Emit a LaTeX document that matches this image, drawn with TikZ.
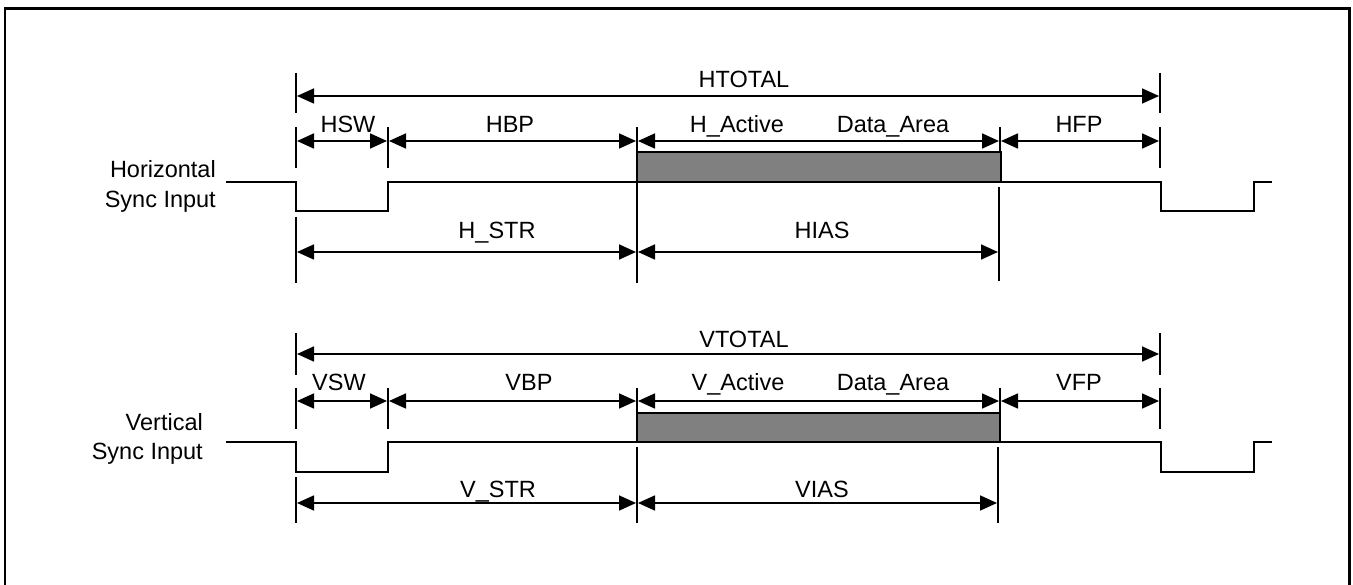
\documentclass[tikz,border=0pt]{standalone}
\usepackage{fontspec}
\setmainfont{Liberation Sans}
\usetikzlibrary{arrows.meta}
\definecolor{activegray}{RGB}{128,128,128}
\begin{document}
\begin{tikzpicture}[x=1pt,y=-1pt,
  frame/.style={line width=2.7pt},
  tick/.style={line width=1.3pt},
  dim/.style={line width=1.7pt, shorten <=1pt, shorten >=1pt,
    {Triangle[length=17pt,width=15pt]}-{Triangle[length=17pt,width=15pt]}},
  sig/.style={line width=2pt, line join=miter},
  active/.style={fill=activegray, draw=black, line width=1.3pt},
  lbl/.style={font=\fontsize{23.5}{28}\selectfont, anchor=base, inner sep=0pt},
  sname/.style={lbl, anchor=base east}]
\useasboundingbox (0,0) rectangle (1353,585);

% outer frame (open at the bottom)
\draw[frame] (5,586) -- (5,8.5) -- (1349.5,8.5) -- (1349.5,586);

% column positions of the timing edges
\coordinate (c0) at (296,0);   % sync falls
\coordinate (c1) at (388,0);   % sync rises
\coordinate (c2) at (637,0);   % active data starts
\coordinate (c3) at (1000,0);  % active data ends
\coordinate (c4) at (1160,0);  % next sync falls

% rows of the dimension lines
\coordinate (hrA) at (0,96);
\coordinate (hrB) at (0,141);
\coordinate (hrC) at (0,252);
\coordinate (vrA) at (0,354);
\coordinate (vrB) at (0,401);
\coordinate (vrC) at (0,503);

% ---------------- horizontal sync ----------------
\node[sname] (hname1) at (216,178) {Horizontal};
\node[sname] (hname2) at (216,208) {Sync Input};

% extension lines
\draw[tick] (296,73) -- (296,113);
\draw[tick] (1160,73) -- (1160,113);
\draw[tick] (296,127) -- (296,168);
\draw[tick] (388,127) -- (388,168);
\draw[tick] (637,127) -- (637,283);
\draw[tick] (1000,127) -- (1000,152);
\draw[tick] (1160,127) -- (1160,168);
\draw[tick] (296,217) -- (296,283);
\draw[tick] (999,187) -- (999,281);

% active data area and signal
\draw[active] (637,152) rectangle (1001,182);
\draw[sig] (226,182) -- (296,182) -- (296,211) -- (388,211) -- (388,182)
  -- (1161,182) -- (1161,211) -- (1254,211) -- (1254,182) -- (1272,182);

% dimensions
\draw[dim] (c0|-hrA) -- (c4|-hrA);
\draw[dim] (c0|-hrB) -- (c1|-hrB);
\draw[dim] (c1|-hrB) -- (c2|-hrB);
\draw[dim] (c2|-hrB) -- (c3|-hrB);
\draw[dim] (c3|-hrB) -- (c4|-hrB);
\draw[dim] (c0|-hrC) -- (c2|-hrC);
\draw[dim] (c2|-hrC) -- ([xshift=-1pt]c3|-hrC);

\node[lbl] (htotal) at (744,88) {HTOTAL};
\node[lbl] (hsw) at (348,133) {HSW};
\node[lbl] (hbp) at (510,133) {HBP};
\node[lbl] (hact) at (737,133) {H\_Active};
\node[lbl] (hdata) at (893,133) {Data\_Area};
\node[lbl] (hfp) at (1079,133) {HFP};
\node[lbl] (hstr) at (497,239) {H\_STR};
\node[lbl] (hias) at (822,239) {HIAS};

% ---------------- vertical sync ----------------
\node[sname] (vname1) at (203,431) {Vertical};
\node[sname] (vname2) at (203,459) {Sync Input};

% extension lines
\draw[tick] (296,333) -- (296,375);
\draw[tick] (1160,333) -- (1160,375);
\draw[tick] (296,388) -- (296,429);
\draw[tick] (388,388) -- (388,429);
\draw[tick] (637,388) -- (637,428);
\draw[tick] (1000,388) -- (1000,413);
\draw[tick] (1160,388) -- (1160,429);
\draw[tick] (296,477) -- (296,523);
\draw[tick] (637,447) -- (637,523);
\draw[tick] (998,447) -- (998,523);

% active data area and signal
\draw[active] (637,413) rectangle (1000,442);
\draw[sig] (226,442) -- (296,442) -- (296,472) -- (388,472) -- (388,442)
  -- (1161,442) -- (1161,472) -- (1254,472) -- (1254,442) -- (1272,442);

% dimensions
\draw[dim] (c0|-vrA) -- (c4|-vrA);
\draw[dim] (c0|-vrB) -- (c1|-vrB);
\draw[dim] (c1|-vrB) -- (c2|-vrB);
\draw[dim] (c2|-vrB) -- (c3|-vrB);
\draw[dim] (c3|-vrB) -- (c4|-vrB);
\draw[dim] (c0|-vrC) -- (c2|-vrC);
\draw[dim] (c2|-vrC) -- ([xshift=-2pt]c3|-vrC);

\node[lbl] (vtotal) at (744,348) {VTOTAL};
\node[lbl] (vsw) at (339,391) {VSW};
\node[lbl] (vbp) at (529,391) {VBP};
\node[lbl] (vact) at (738,391) {V\_Active};
\node[lbl] (vdata) at (893,391) {Data\_Area};
\node[lbl] (vfp) at (1079,391) {VFP};
\node[lbl] (vstr) at (498,497) {V\_STR};
\node[lbl] (vias) at (822,497) {VIAS};
\end{tikzpicture}
\end{document}
